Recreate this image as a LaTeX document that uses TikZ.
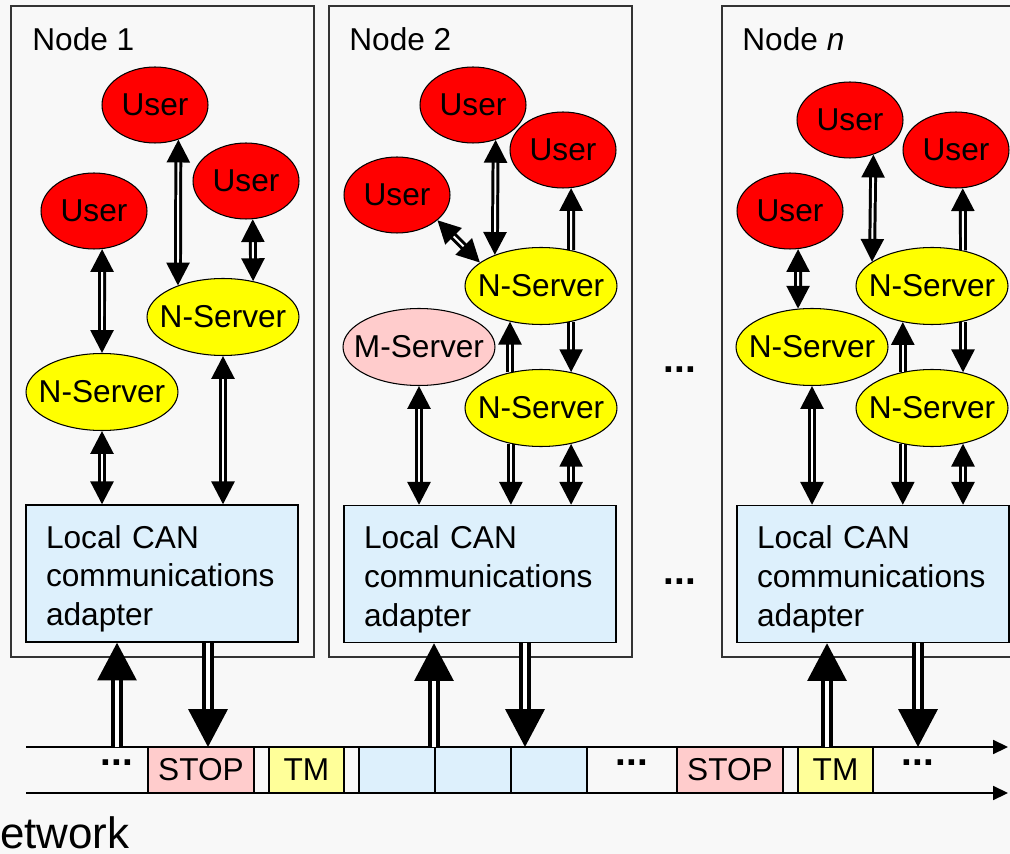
\documentclass[tikz,border=0pt]{standalone}
\usepackage{fontspec}
\setmainfont{Liberation Sans}
\usetikzlibrary{shapes.geometric,arrows.meta}
\definecolor{bg}{HTML}{F8F8F8}
\definecolor{usrred}{HTML}{FF0000}
\definecolor{srvyel}{HTML}{FFFF00}
\definecolor{mgrpink}{HTML}{FFCCCC}
\definecolor{canblue}{HTML}{DDF0FC}
\definecolor{tmyel}{HTML}{FFFF99}
\newcommand\nm[1]{\makebox[0pt]{#1}}
\tikzset{
  every node/.style={font=\fontsize{18}{22}\selectfont},
  usr/.style={ellipse, draw, fill=usrred, line width=0.6pt, minimum width=2.12cm, minimum height=1.52cm, inner sep=0pt},
  srv/.style={usr, fill=srvyel, minimum width=3.04cm, minimum height=1.54cm},
  mgr/.style={srv, fill=mgrpink},
  can/.style={draw, fill=canblue, line width=0.8pt, minimum height=2.74cm, text width=4.64cm, text height=19pt, align=left, inner xsep=0.4cm},
  frame/.style={draw=black!80, line width=0.7pt},
  link/.style={double, double distance=1.1pt, line width=1.7pt, >={Triangle[width=13pt,length=13pt]}},
  buslink/.style={double, double distance=2.2pt, line width=2.4pt, >={Triangle[width=22pt,length=21.5pt]}},
  cell/.style={draw, line width=0.8pt, minimum height=0.92cm, inner sep=0pt},
  busline/.style={line width=0.9pt, -{Triangle[width=8pt,length=8.5pt]}},
  dots/.style={font=\fontsize{22}{24}\selectfont\bfseries, inner sep=0pt},
}
\begin{document}
\begin{tikzpicture}[x=0.02cm, y=-0.02cm]
  \fill[bg] (0,0) rectangle (1010,854);
  \clip (0,0) rectangle (1010,854);
  \draw[frame] (11,6) rectangle (314,657);
  \draw[frame] (329,6) rectangle (632,657);
  \draw[frame] (722,6) rectangle (1025,657);
  \node[anchor=base west, inner sep=0pt] (L1) at (32,51) {Node 1};
  \node[anchor=base west, inner sep=0pt] (L2) at (349,51) {Node 2};
  \node[anchor=base west, inner sep=0pt] (L3) at (742,51) {Node \textit{n}};

  \node[usr] (U11) at (155,105) {\nm{User}};
  \node[usr] (U12) at (246,181) {\nm{User}};
  \node[usr] (U13) at (94,211) {\nm{User}};
  \node[srv] (N11) at (102,392) {\nm{N-Server}};
  \node[srv] (N12) at (223,317) {\nm{N-Server}};
  \node[can] (C1) at (162,573.5) {Local CAN\\communications\\adapter};
  \draw[link,<->] (U13.-78) -- (N11.north);
  \draw[link,<->] (U11.-56) -- (N12.145);
  \draw[link,<->] (U12.-80) -- (N12.50);
  \draw[link,<->] (N11.south) -- (N11.south |- C1.north);
  \draw[link,<->] (N12.south) -- (N12.south |- C1.north);

  \node[usr] (U21) at (473,105) {\nm{User}};
  \node[usr] (U22) at (563,150) {\nm{User}};
  \node[usr] (U23) at (397,195) {\nm{User}};
  \node[srv] (N21) at (541,286) {\nm{N-Server}};
  \node[srv] (N22) at (541,408) {\nm{N-Server}};
  \node[mgr] (M2) at (419,347) {\nm{M-Server}};
  \node[can] (C2) at (480,574) {Local CAN\\communications\\adapter};
  \draw[link,<->] (U21.-57) -- (N21.146);
  \draw[link,<->] (U23.-32) -- (N21.159);
  \draw[link,->] (N21.50) -- (U22.-78);
  \draw[link,->] (N22.131) -- (N21.-131);
  \draw[link,->] (N21.-50) -- (N22.50);
  \draw[link,<->] (M2.south) -- (M2.south |- C2.north);
  \draw[link,->] (N22.-130) -- (N22.-130 |- C2.north);
  \draw[link,<->] (N22.-50) -- (N22.-50 |- C2.north);

  \node[usr] (U31) at (850,120) {\nm{User}};
  \node[usr] (U32) at (956,150) {\nm{User}};
  \node[usr] (U33) at (790,211) {\nm{User}};
  \node[srv] (N31) at (932,286) {\nm{N-Server}};
  \node[srv] (N32) at (932,408) {\nm{N-Server}};
  \node[srv] (N33) at (812,347) {\nm{N-Server}};
  \node[can] (C3) at (873,574) {Local CAN\\communications\\adapter};
  \draw[link,<->] (U33.-78) -- (N33.110);
  \draw[link,<->] (U31.-56) -- (N31.158);
  \draw[link,->] (N31.49) -- (U32.-80);
  \draw[link,->] (N32.129) -- (N31.-129);
  \draw[link,->] (N31.-49) -- (N32.49);
  \draw[link,<->] (N33.south) -- (N33.south |- C3.north);
  \draw[link,->] (N32.-129) -- (N32.-129 |- C3.north);
  \draw[link,<->] (N32.-49) -- (N32.-49 |- C3.north);

  \node[dots] (D1) at (680,370) {...};
  \node[dots] (D2) at (680,582) {...};

  \node[cell, fill=mgrpink, minimum width=2.12cm] (S1) at (201,770) {STOP};
  \node[cell, fill=tmyel, minimum width=1.5cm] (T1) at (306.5,770) {TM};
  \node[cell, fill=canblue, minimum width=1.52cm] (F1) at (397,770) {};
  \node[cell, fill=canblue, minimum width=1.52cm] (F2) at (473,770) {};
  \node[cell, fill=canblue, minimum width=1.52cm] (F3) at (549,770) {};
  \node[cell, fill=mgrpink, minimum width=2.12cm] (S2) at (730,770) {STOP};
  \node[cell, fill=tmyel, minimum width=1.5cm] (T2) at (835.5,770) {TM};
  \coordinate (busA) at (26,747); \coordinate (busB) at (1008,747);
  \coordinate (busC) at (26,793); \coordinate (busD) at (1008,793);
  \draw[busline] (busA) -- (busB); \draw[busline] (busC) -- (busD);
  \node[dots] (B1) at (117,763) {...};
  \node[dots] (B2) at (632,763) {...};
  \node[dots] (B3) at (918,763) {...};

  \coordinate (in1) at (117,747); \coordinate (out1) at (208,747);
  \coordinate (in2) at (434,747); \coordinate (out2) at (525,747);
  \coordinate (in3) at (827,747); \coordinate (out3) at (918,747);
  \draw[buslink,->] (in1) -- (in1 |- C1.south); \draw[buslink,->] (out1 |- C1.south) -- (out1);
  \draw[buslink,->] (in2) -- (in2 |- C2.south); \draw[buslink,->] (out2 |- C2.south) -- (out2);
  \draw[buslink,->] (in3) -- (in3 |- C3.south); \draw[buslink,->] (out3 |- C3.south) -- (out3);

  \node[anchor=base west, font=\fontsize{25}{30}\selectfont, inner sep=0pt] (net) at (-32,848) {Network};
\end{tikzpicture}
\end{document}
